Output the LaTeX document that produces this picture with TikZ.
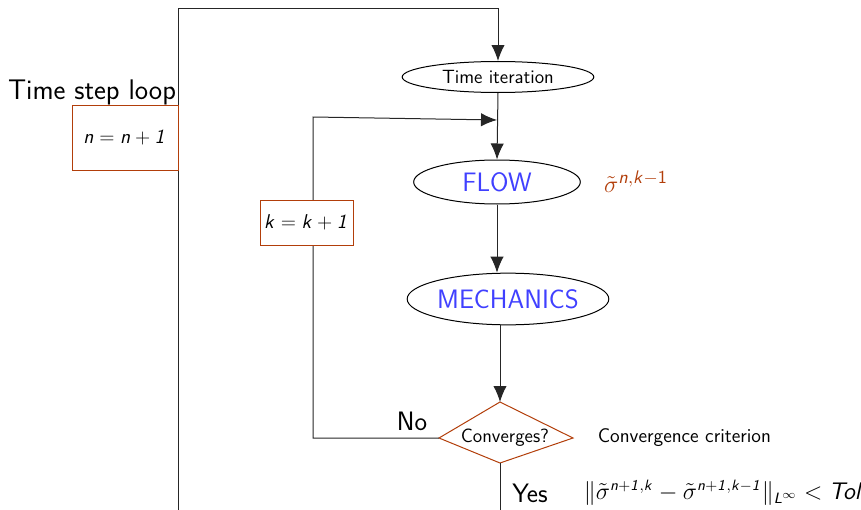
\documentclass[tikz,border=0pt]{standalone}
\usetikzlibrary{arrows.meta,shapes.geometric,calc}
\renewcommand{\familydefault}{\sfdefault}
\DeclareMathAlphabet{\msi}{OT1}{cmss}{m}{sl}
\DeclareMathAlphabet{\msu}{OT1}{cmss}{m}{n}
\definecolor{brn}{RGB}{178,62,10}
\definecolor{flowblue}{RGB}{64,64,255}
\tikzset{
  arr/.style={-{Latex[length=9.6pt,width=8pt]}},
  ln/.style={line width=0.6pt,draw=black!85},
  ell/.style={ellipse,draw=black,line width=0.6pt,inner sep=0pt},
  brbox/.style={rectangle,draw=brn,line width=0.6pt,fill=white,inner sep=0pt},
}
\begin{document}
\begin{tikzpicture}[x=0.6pt,y=-0.6pt]
\useasboundingbox (0,0) rectangle (861,510);
% nodes
\node[ell,minimum width=115pt,minimum height=18.6pt,font=\fontsize{11.5}{13}\selectfont] (ti) at (498,77) {Time iteration};
\node[ell,minimum width=100pt,minimum height=26.4pt,text=flowblue,font=\fontsize{16}{18}\selectfont] (flow) at (497,182) {FLOW};
\node[ell,minimum width=121pt,minimum height=31pt,text=flowblue,font=\fontsize{16}{18}\selectfont] (mech) at (508,299) {MECHANICS};
\node[font=\fontsize{11.5}{13}\selectfont] (conv) at (505,438) {Converges?};
\coordinate (convT) at ($(conv)+(-5,-36)$);
\coordinate (convB) at ($(conv)+(-5,25)$);
\coordinate (convL) at ($(conv)+(-66,0)$);
\coordinate (convR) at ($(conv)+(68,0)$);
\draw[draw=brn,line width=0.6pt] (convT) -- (convR) -- (convB) -- (convL) -- cycle;
% coordinates
\coordinate (outbot) at (178,510);
\coordinate (outtop) at (498,8);
\coordinate (kcorner) at (313,117);
\coordinate (kend) at (497,120);
\coordinate (ybot) at (500,510);
% connectors
\draw[ln,arr] (outbot) |- (outtop) -- (ti.north);
\draw[ln,arr] (ti.south) -- (flow.north);
\draw[ln,arr] (flow.south) -- (flow.south |- mech.north);
\draw[ln,arr] (convT |- mech.south) -- (convT);
\draw[ln,arr] (convL) -| (kcorner) -- (kend);
\draw[ln] (convB) -- (ybot);
% boxes
\node[brbox,minimum width=63.6pt,minimum height=39pt,font=\fontsize{12}{14}\selectfont] (nbox) at (125,137.5) {$\msi{n} = \msi{n} + \msi{1}$};
\node[brbox,minimum width=55.8pt,minimum height=27pt,font=\fontsize{12}{14}\selectfont] (kbox) at (306.5,222.5) {$\msi{k} = \msi{k} + \msi{1}$};
% labels
\node[font=\fontsize{17}{19}\selectfont] (tsl) at (92,92) {Time step loop};
\node[font=\fontsize{16}{18}\selectfont] (no) at (412,421) {No};
\node[font=\fontsize{16}{18}\selectfont] (yes) at (530,493) {Yes};
\node[text=brn,font=\fontsize{15}{17}\selectfont] (sig) at (636,182) {$\tilde\sigma^{\msi{n},\msi{k}-\msu{1}}$};
\node[anchor=west,font=\fontsize{11.8}{13}\selectfont] (crit) at (592,438) {Convergence criterion};
\node[anchor=west,font=\fontsize{13.3}{15}\selectfont] (form) at (578,493) {$\|\tilde\sigma^{\msi{n}+\msi{1},\msi{k}}-\tilde\sigma^{\msi{n}+\msi{1},\msi{k}-\msi{1}}\|_{\msi{L}^\infty} < \msi{Tol}$};
\end{tikzpicture}
\end{document}
